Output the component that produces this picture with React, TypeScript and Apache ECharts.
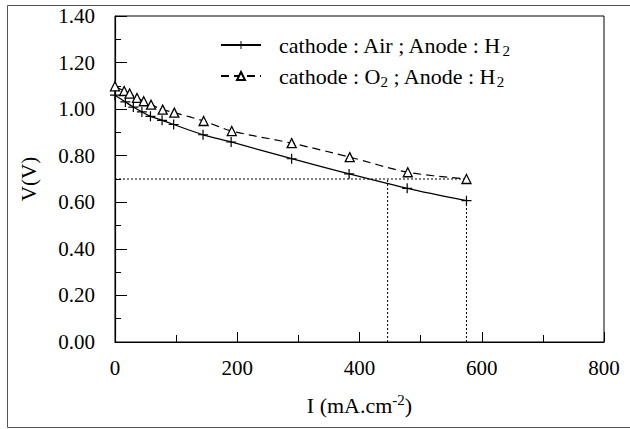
import React, { useEffect, useRef } from "react";
import * as echarts from "echarts";

// Current density (mA/cm2) and voltage (V)
const airI = [0, 17, 30, 44, 58, 77, 96, 144, 190, 289, 383, 478, 575];
const airV = [1.06, 1.031, 1.009, 0.988, 0.969, 0.952, 0.934, 0.89, 0.859, 0.787, 0.722, 0.66, 0.607];
const o2I = [0, 15, 24, 36, 47, 59, 78, 97, 145, 191, 289, 384, 479, 575];
const o2V = [1.098, 1.078, 1.067, 1.048, 1.034, 1.019, 0.998, 0.985, 0.949, 0.906, 0.854, 0.794, 0.729, 0.7];
const refV = 0.7;
const refI1 = 446;
const refI2 = 575;
const xTicks = [0, 200, 400, 600, 800];
const yTicks = [0, 0.2, 0.4, 0.6, 0.8, 1.0, 1.2, 1.4];
const airName = "cathode : Air ; Anode : H2";
const o2Name = "cathode : O2 ; Anode : H2";

const FONT = "'Liberation Serif', 'Times New Roman', serif";
const PLUS =
  "path://M4.4,0 h1.2 v4.4 h4.4 v1.2 h-4.4 v4.4 h-1.2 v-4.4 h-4.4 v-1.2 h4.4 z";

export default function App() {
  const ref = useRef<HTMLDivElement>(null);
  useEffect(() => {
    if (!ref.current) return;
    const chart = echarts.init(ref.current, undefined, { renderer: "svg" });
    const rich = {
      a: { fontFamily: FONT, fontSize: 22, color: "#000", lineHeight: 26 },
      s: { fontFamily: FONT, fontSize: 15, color: "#000", lineHeight: 14, verticalAlign: "bottom" },
      p: { fontFamily: FONT, fontSize: 15, color: "#000", lineHeight: 14, verticalAlign: "top" },
    };
    const dotted = { color: "#000", width: 1, type: [2, 2] };
    chart.setOption({
      animation: false,
      backgroundColor: "#fff",
      textStyle: { fontFamily: FONT },
      graphic: [
        {
          type: "rect",
          shape: { x: 7.5, y: 5.5, width: 640, height: 422 },
          style: { fill: "none", stroke: "#555", lineWidth: 1 },
          silent: true,
        },
      ],
      grid: {
        left: 115,
        right: 26,
        top: 16,
        bottom: 87,
        show: true,
        borderColor: "#000",
        borderWidth: 1,
        backgroundColor: "transparent",
      },
      legend: {
        data: [airName, o2Name],
        orient: "vertical",
        left: 215,
        top: 29,
        itemWidth: 40,
        itemHeight: 10,
        itemGap: 7,
        textStyle: { padding: [0, 0, 0, 13], fontFamily: FONT, rich },
        formatter: (name: string) => {
          if (name === airName) return "{a|cathode : Air ; Anode : H}{s|2}";
          return "{a|cathode : O}{s|2}{a| ; Anode : H}{s|2}";
        },
      },
      xAxis: {
        type: "value",
        min: xTicks[0],
        max: xTicks[xTicks.length - 1],
        interval: 200,
        name: "{a|I (mA.cm}{p|-2}{a|)}",
        nameLocation: "middle",
        nameGap: 50,
        nameTextStyle: { fontFamily: FONT, rich },
        axisLine: { lineStyle: { color: "#000", width: 1.2 } },
        axisTick: { inside: true, length: 10, lineStyle: { color: "#000" } },
        minorTick: { show: true, splitNumber: 2, length: 7, lineStyle: { color: "#000" } },
        splitLine: { show: false },
        axisLabel: { color: "#000", fontFamily: FONT, fontSize: 21, margin: 15 },
      },
      yAxis: {
        type: "value",
        min: yTicks[0],
        max: yTicks[yTicks.length - 1],
        interval: 0.2,
        name: "V(V)",
        nameLocation: "middle",
        nameGap: 76,
        nameTextStyle: { color: "#000", fontFamily: FONT, fontSize: 21 },
        axisLine: { lineStyle: { color: "#000", width: 1.2 } },
        axisTick: { inside: true, length: 12, lineStyle: { color: "#000" } },
        minorTick: { show: true, splitNumber: 2, length: 6, lineStyle: { color: "#000" } },
        splitLine: { show: false },
        axisLabel: {
          color: "#000",
          fontFamily: FONT,
          fontSize: 21,
          margin: 20,
          formatter: (v: number) => v.toFixed(2),
        },
      },
      series: [
        {
          name: airName,
          type: "line",
          data: airI.map((x, i) => [x, airV[i]]),
          smooth: 0.3,
          symbol: PLUS,
          symbolSize: 10,
          showAllSymbol: true,
          lineStyle: { color: "#000", width: 1.3, type: "solid" },
          itemStyle: { color: "#000" },
        },
        {
          name: o2Name,
          type: "line",
          data: o2I.map((x, i) => [x, o2V[i]]),
          smooth: 0.3,
          symbol: "triangle",
          symbolSize: 9,
          showAllSymbol: true,
          lineStyle: { color: "#000", width: 1.2, type: [8, 5] },
          itemStyle: { color: "#fff", borderColor: "#000", borderWidth: 1.3 },
        },
        {
          name: "refH",
          type: "line",
          data: [
            [0, refV],
            [refI2, refV],
          ],
          symbol: "none",
          lineStyle: dotted,
          silent: true,
        },
        {
          name: "refV1",
          type: "line",
          data: [
            [refI1, 0],
            [refI1, refV],
          ],
          symbol: "none",
          lineStyle: dotted,
          silent: true,
        },
        {
          name: "refV2",
          type: "line",
          data: [
            [refI2, 0],
            [refI2, airV[airV.length - 1]],
          ],
          symbol: "none",
          lineStyle: dotted,
          silent: true,
        },
      ],
    });
    return () => chart.dispose();
  }, []);
  return (
    <div
      ref={ref}
      style={{ position: "fixed", left: 0, top: 0, width: 630, height: 429 }}
    />
  );
}
